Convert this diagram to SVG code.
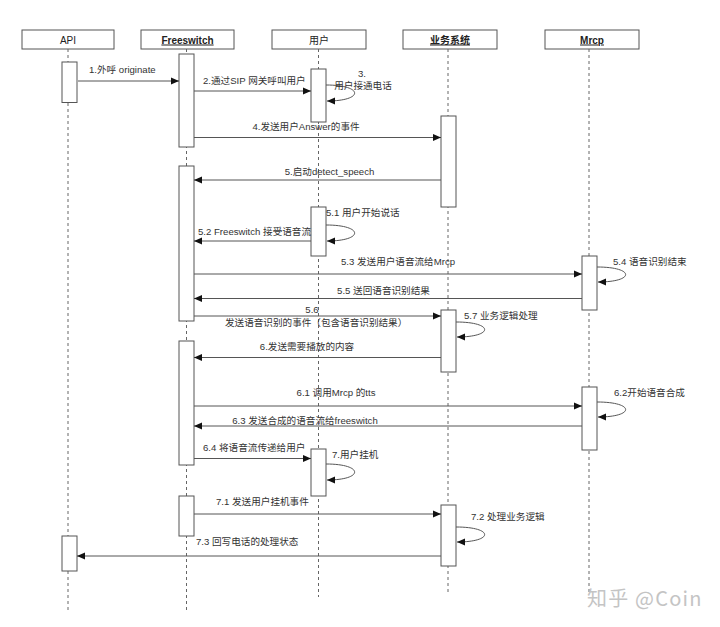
<svg xmlns="http://www.w3.org/2000/svg" width="720" height="627" viewBox="0 0 720 627">
<style>
.hdr{fill:#fff;stroke:#555;stroke-width:1}
.ht{font-family:"Liberation Sans","Noto Sans CJK SC",sans-serif;font-size:10px;fill:#222;text-anchor:middle}
.b{font-weight:bold;text-decoration:underline}
.life{stroke:#666;stroke-width:1;stroke-dasharray:3,3;fill:none}
.act{fill:#fff;stroke:#555;stroke-width:1}
.msg{stroke:#555;stroke-width:1;fill:none;marker-end:url(#ah)}
.lb{font-family:"Liberation Sans","Noto Sans CJK SC",sans-serif;font-size:9.6px;fill:#333}
.m{text-anchor:middle}
</style>
<defs>
<marker id="ah" viewBox="0 0 8 8" refX="8" refY="4" markerWidth="8" markerHeight="8" markerUnits="userSpaceOnUse" orient="auto">
<path d="M0,0.5 L8,4 L0,7.5 z" fill="#111"/>
</marker>
</defs>
<rect width="720" height="627" fill="#fff"/>

<g id="api">
<rect class="hdr" x="22" y="30" width="92" height="19"/>
<text class="ht" x="68" y="43.5">API</text>
<line class="life" x1="68" y1="49" x2="68" y2="613"/>
<rect class="act" x="62" y="62" width="15" height="40.5"/>
<rect class="act" x="62" y="536" width="15" height="35"/>
</g>
<g id="freeswitch">
<rect class="hdr" x="141" y="30" width="93" height="19"/>
<text class="ht b" x="187.5" y="43.5">Freeswitch</text>
<line class="life" x1="186.5" y1="49" x2="186.5" y2="613"/>
<rect class="act" x="179" y="54" width="15" height="93"/>
<rect class="act" x="179" y="166" width="15" height="155"/>
<rect class="act" x="179" y="341" width="15" height="124"/>
<rect class="act" x="179" y="496" width="15" height="40"/>
</g>
<g id="user">
<rect class="hdr" x="272" y="30" width="94" height="19"/>
<text class="ht" x="319" y="43.5">用户</text>
<line class="life" x1="318.5" y1="49" x2="318.5" y2="597"/>
<rect class="act" x="311" y="69" width="15" height="53"/>
<rect class="act" x="311" y="207" width="15" height="49"/>
<rect class="act" x="311" y="449" width="15" height="47"/>
</g>
<g id="biz">
<rect class="hdr" x="403" y="30" width="94" height="19"/>
<text class="ht b" x="450" y="43.5">业务系统</text>
<line class="life" x1="448" y1="49" x2="448" y2="595"/>
<rect class="act" x="441" y="116" width="15" height="91"/>
<rect class="act" x="441" y="310" width="15" height="62"/>
<rect class="act" x="441" y="505" width="15" height="61"/>
</g>
<g id="mrcp">
<rect class="hdr" x="545" y="30" width="94" height="19"/>
<text class="ht b" x="592" y="43.5">Mrcp</text>
<line class="life" x1="589" y1="49" x2="589" y2="592"/>
<rect class="act" x="582" y="256" width="15" height="54"/>
<rect class="act" x="582" y="387" width="15" height="63"/>
</g>

<g id="connectors">
<path class="msg" d="M78,81 H179"/>
<path class="msg" d="M194,91 H311"/>
<path class="msg" d="M326,85 C364,85 364,101 327,101"/>
<path class="msg" d="M194,137.5 H441"/>
<path class="msg" d="M441,180 H194"/>
<path class="msg" d="M326,225 C364,225 364,241 327,241"/>
<path class="msg" d="M311,241 H194"/>
<path class="msg" d="M194,274 H582"/>
<path class="msg" d="M597,267 C635,267 635,282 598,282"/>
<path class="msg" d="M582,298.5 H194"/>
<path class="msg" d="M194,316 H441"/>
<path class="msg" d="M456,322 C494,322 494,337 457,337"/>
<path class="msg" d="M441,357.5 H194"/>
<path class="msg" d="M194,406 H582"/>
<path class="msg" d="M597,402 C635,402 635,417 598,417"/>
<path class="msg" d="M582,426 H194"/>
<path class="msg" d="M194,458.5 H311"/>
<path class="msg" d="M326,464 C364,464 364,480 327,480"/>
<path class="msg" d="M194,514 H441"/>
<path class="msg" d="M456,527 C494,527 494,542 457,542"/>
<path class="msg" d="M441,556 H77"/>
</g>

<g id="labels">
<text class="lb" x="89" y="73">1.外呼 originate</text>
<text class="lb" x="203" y="83.5">2.通过SIP 网关呼叫用户</text>
<text class="lb m" x="362" y="77">3.</text>
<text class="lb m" x="363" y="88.5">用户接通电话</text>
<text class="lb m" x="306" y="130">4.发送用户Answer的事件</text>
<text class="lb m" x="329.5" y="174.5">5.启动detect_speech</text>
<text class="lb" x="326" y="216">5.1 用户开始说话</text>
<text class="lb" x="198" y="234.5">5.2 Freeswitch 接受语音流</text>
<text class="lb m" x="398" y="265">5.3 发送用户语音流给Mrcp</text>
<text class="lb" x="613" y="264.5">5.4 语音识别结束</text>
<text class="lb m" x="383.5" y="294">5.5 送回语音识别结果</text>
<text class="lb m" x="312" y="313">5.6</text>
<text class="lb" x="225" y="325.5">发送语音识别的事件（包含语音识别结果）</text>
<text class="lb" x="464" y="319">5.7 业务逻辑处理</text>
<text class="lb m" x="307" y="349.5">6.发送需要播放的内容</text>
<text class="lb m" x="336" y="396">6.1 调用Mrcp 的tts</text>
<text class="lb" x="614" y="396">6.2开始语音合成</text>
<text class="lb m" x="305" y="424">6.3 发送合成的语音流给freeswitch</text>
<text class="lb" x="203" y="451">6.4 将语音流传递给用户</text>
<text class="lb" x="332" y="458">7.用户挂机</text>
<text class="lb" x="216" y="505">7.1 发送用户挂机事件</text>
<text class="lb" x="471" y="519.5">7.2 处理业务逻辑</text>
<text class="lb" x="196" y="544.5">7.3 回写电话的处理状态</text>
</g>
<text x="587" y="606" font-family="Noto Sans CJK SC, sans-serif" font-size="20" letter-spacing="1.2" fill="#c4c4c4">知乎 @Coin</text>
</svg>
